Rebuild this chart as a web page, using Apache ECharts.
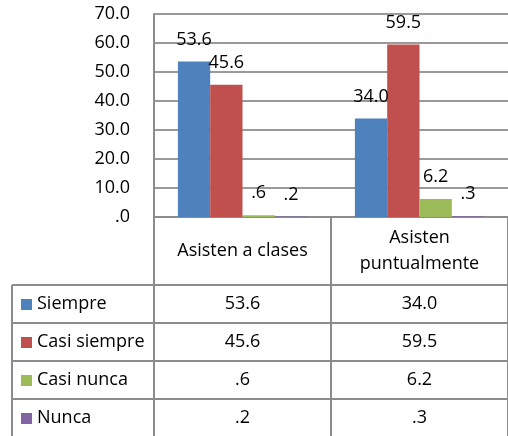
<!DOCTYPE html>
<html>
<head>
<meta charset="utf-8">
<script src="https://cdn.jsdelivr.net/npm/echarts@6/dist/echarts.min.js"></script>
<style>
  html, body { margin: 0; padding: 0; background: #fff; }
  #chart { width: 508px; height: 436px; }
</style>
</head>
<body>
<div id="chart"></div>
<script>
// datos de la gráfica
const categories = ['Asisten a clases', 'Asisten\npuntualmente'];
const seriesNames = ['Siempre', 'Casi siempre', 'Casi nunca', 'Nunca'];
const siempre = [53.6, 34.0];
const casiSiempre = [45.6, 59.5];
const casiNunca = [0.6, 6.2];
const nunca = [0.2, 0.3];
const yTicks = [0, 10, 20, 30, 40, 50, 60, 70];

const values = [siempre, casiSiempre, casiNunca, nunca];
const colors = ['#4F81BD', '#C0504D', '#9BBB59', '#8064A2'];
const font = 'Open Sans';
const lineColor = '#8c8c8c';

// 53.6 -> "53.6", 0.6 -> ".6", 0 -> ".0"
const fmt = v => Number(v).toFixed(1).replace(/^0\./, '.');

const gridLeft = 154, gridTop = 14, gridH = 203;
const headerH = 68, rowH = 38, tableLeft = 12;

const myChart = echarts.init(document.getElementById('chart'));

const option = {
  animation: false,
  textStyle: { fontFamily: font },
  grid: { left: gridLeft, top: gridTop, width: 362, height: gridH },
  xAxis: {
    type: 'category',
    data: categories,
    axisLine: { show: true, lineStyle: { color: lineColor, width: 2 } },
    axisTick: { show: false },
    axisLabel: { show: false }
  },
  yAxis: {
    type: 'value',
    min: yTicks[0],
    max: yTicks[yTicks.length - 1],
    interval: 10,
    axisLine: { show: true, lineStyle: { color: lineColor, width: 2 } },
    axisTick: { show: false },
    axisLabel: { formatter: fmt, color: '#000', fontSize: 18, fontFamily: font, margin: 24 },
    splitLine: { lineStyle: { color: '#9a9a9a', width: 2 } }
  },
  series: seriesNames.map((name, i) => ({
    name: name,
    type: 'bar',
    data: values[i],
    barGap: '0%',
    barCategoryGap: '27%',
    itemStyle: { color: colors[i] },
    label: {
      show: true,
      position: 'top',
      distance: 13,
      formatter: p => fmt(p.value),
      color: '#000',
      fontSize: 18,
      fontFamily: font
    }
  }))
};

myChart.setOption(option);

// tabla de datos debajo del eje
const axisY = gridTop + gridH;
const centers = categories.map((c, i) => myChart.convertToPixel({ xAxisIndex: 0 }, i));
const colW = centers.length > 1 ? centers[1] - centers[0] : 181;
const right = centers[centers.length - 1] + colW / 2;
const tableTop = axisY + headerH;
const tableBottom = tableTop + rowH * seriesNames.length;
const els = [];

const line = (x1, y1, x2, y2) => els.push({
  type: 'line',
  shape: { x1: x1, y1: y1, x2: x2, y2: y2 },
  style: { stroke: lineColor, lineWidth: 2 },
  z: 10
});

line(gridLeft, axisY, gridLeft, tableBottom);
centers.forEach(c => line(c + colW / 2, axisY, c + colW / 2, tableBottom));
line(tableLeft, tableTop, tableLeft, tableBottom);
for (let r = 0; r <= seriesNames.length; r++) {
  line(tableLeft, tableTop + r * rowH, right, tableTop + r * rowH);
}

categories.forEach((c, i) => {
  els.push({
    type: 'text',
    x: centers[i],
    y: axisY + headerH / 2,
    style: {
      text: c, fill: '#000', font: '18px "' + font + '"',
      align: 'center', verticalAlign: 'middle', lineHeight: 26
    }
  });
});

seriesNames.forEach((name, r) => {
  const cy = tableTop + r * rowH + rowH / 2;
  els.push({
    type: 'rect',
    shape: { x: 21, y: cy - 5, width: 11, height: 11 },
    style: { fill: colors[r] }
  });
  els.push({
    type: 'text', x: 37, y: cy,
    style: { text: name, fill: '#000', font: '18px "' + font + '"', align: 'left', verticalAlign: 'middle' }
  });
  values[r].forEach((v, i) => {
    els.push({
      type: 'text', x: centers[i], y: cy,
      style: { text: fmt(v), fill: '#000', font: '18px "' + font + '"', align: 'center', verticalAlign: 'middle' }
    });
  });
});

myChart.setOption({ graphic: { elements: els } });

window.addEventListener('resize', () => {
  myChart.resize();
});
</script>
</body>
</html>
